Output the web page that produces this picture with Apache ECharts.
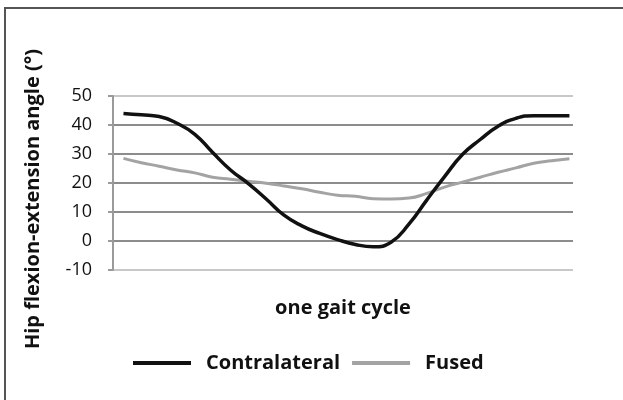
<!DOCTYPE html>
<html><head><meta charset="utf-8">
<script src="https://cdn.jsdelivr.net/npm/echarts@6/dist/echarts.min.js"></script>
<style>html,body{margin:0;padding:0;background:#fff}#c{width:623px;height:400px}</style>
</head><body><div id="c"></div>
<script>
// gait cycle position (%)
const gaitPct = [0,4,8,12,16,20,24,28,32,36,40,44,48,52,56,60,64,68,72,76,80,84,88,92,96,100];
const contralateral = [44.0,43.5,42.9,40.6,36.8,30.5,24.5,19.8,14.5,8.9,5.2,2.6,0.5,-1.2,-2.0,-0.4,5.8,14.1,22.2,29.8,35.0,39.6,42.3,43.2,43.2,43.2];
const fused = [28.5,27.0,25.8,24.5,23.5,22.0,21.3,20.6,19.9,19.0,18.0,16.8,15.8,15.4,14.6,14.5,14.8,16.4,18.6,20.3,22.0,23.7,25.2,26.8,27.7,28.4];
const yTicks = [-10,0,10,20,30,40,50];
const seriesNames = ['Contralateral','Fused'];
const xTitle = 'one gait cycle';
const yTitle = 'Hip flexion-extension angle (°)';

const FONT = 'Open Sans';
const chart = echarts.init(document.getElementById('c'), null, {renderer:'canvas'});
const pair = (xs, ys) => xs.map((x,i)=>[x, ys[i]]);
chart.setOption({
  animation:false,
  backgroundColor:'#fff',
  grid:{left:113,right:50,top:96,bottom:130,containLabel:false},
  xAxis:{type:'value',min:-2.35,max:100.8,
    name:xTitle,nameLocation:'middle',nameGap:28,
    nameTextStyle:{fontFamily:FONT,fontSize:20,fontWeight:'bold',color:'#111'},
    axisLine:{show:false},axisTick:{show:false},axisLabel:{show:false},splitLine:{show:false}},
  yAxis:{type:'value',min:yTicks[0],max:yTicks[yTicks.length-1],interval:10,
    axisLine:{show:true,onZero:false,lineStyle:{color:'#9a9a9a',width:2}},
    axisTick:{show:true,length:5,lineStyle:{color:'#9a9a9a',width:2}},
    axisLabel:{fontFamily:FONT,fontSize:18,color:'#111',margin:21},
    splitLine:{show:true,lineStyle:{width:2,color:['#c8c8c8','#8c8c8c','#8c8c8c','#8c8c8c','#8c8c8c','#8c8c8c','#c8c8c8']}}},
  legend:{left:128,top:348,itemWidth:58,itemHeight:4,itemGap:12,icon:'rect',
    textStyle:{fontFamily:FONT,fontSize:20,fontWeight:'bold',color:'#111',padding:[0,0,0,10]},
    data:seriesNames},
  series:[
    {name:seriesNames[0],type:'line',smooth:true,showSymbol:false,data:pair(gaitPct,contralateral),
     lineStyle:{color:'#111',width:3.5},itemStyle:{color:'#111'},z:3},
    {name:seriesNames[1],type:'line',smooth:true,showSymbol:false,data:pair(gaitPct,fused),
     lineStyle:{color:'#a3a3a3',width:3},itemStyle:{color:'#a3a3a3'},z:2}
  ],
  graphic:[
    {type:'rect',shape:{x:5,y:8,width:700,height:500},style:{fill:'none',stroke:'#555',lineWidth:2},silent:true},
    {type:'text',x:33,y:199,rotation:Math.PI/2,
     style:{text:yTitle,fontFamily:FONT,fontSize:20,fontWeight:'bold',fill:'#111',align:'center',verticalAlign:'middle'}}
  ]
});
</script></body></html>
